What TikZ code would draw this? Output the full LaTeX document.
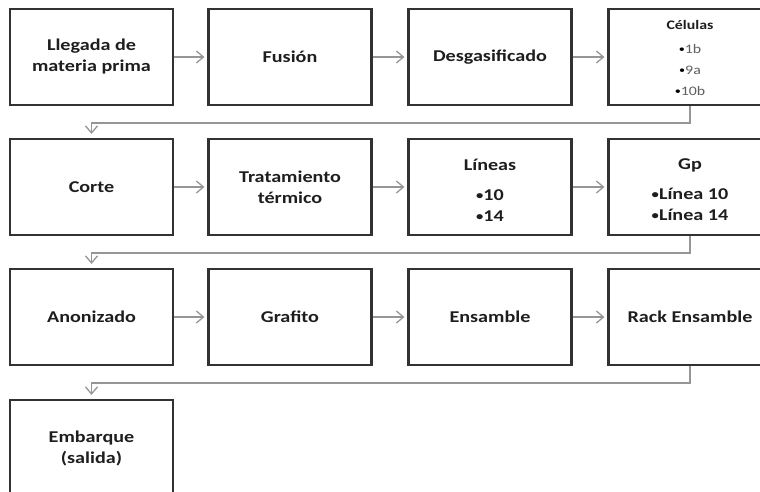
\documentclass[tikz,border=0pt]{standalone}
\usepackage{fontspec}
\setmainfont[FakeStretch=1.22]{Carlito}
\usetikzlibrary{arrows.meta}
\definecolor{boxline}{RGB}{50,50,50}
\definecolor{connline}{RGB}{150,150,150}
\definecolor{txt}{RGB}{30,30,30}
\definecolor{subtxt}{RGB}{95,95,95}
\newcommand{\smbul}{\raisebox{1.2pt}{\fontsize{12}{12}\selectfont\textbullet}}
\newcommand{\tinybul}{\raisebox{0.8pt}{\fontsize{10}{10}\selectfont\textbullet}}
\tikzset{
  pbox/.style={draw=boxline, line width=2.2pt, minimum width=163pt, minimum height=96pt,
    inner sep=0pt, align=center, text=txt,
    font=\fontsize{16.5}{21}\selectfont\bfseries},
  btext/.style={inner sep=0pt, align=center, text=txt,
    font=\fontsize{16.5}{21}\selectfont\bfseries},
  conn/.style={draw=connline, line width=1.4pt,
    -{Straight Barb[length=7pt,width=12pt,line width=1.3pt]}, shorten >=3pt},
  elbow/.style={draw=connline, line width=1.4pt,
    -{Straight Barb[length=7pt,width=12pt,line width=1.3pt]}, shorten >=4pt}
}
\begin{document}
\begin{tikzpicture}[x=1pt,y=-1pt]
\clip (0,0) rectangle (760,491);
\fill[white] (0,0) rectangle (760,491);
% row 1
\node[pbox] (lleg) at (91.5,57) {Llegada de\\materia prima};
\node[pbox] (fus)  at (290,57) {Fusión};
\node[pbox] (des)  at (490,57) {Desgasificado};
\node[pbox] (cel)  at (690,57) {};
\node[btext] (celt) at (690,58) {{\fontsize{13}{16}\selectfont Células}\\[3pt]
  {\fontsize{13}{21}\selectfont\mdseries\textcolor{black}{\tinybul}\textcolor{subtxt}{1b}}\\
  {\fontsize{13}{21}\selectfont\mdseries\textcolor{black}{\tinybul}\textcolor{subtxt}{9a}}\\
  {\fontsize{13}{20}\selectfont\mdseries\textcolor{black}{\tinybul}\textcolor{subtxt}{10b}}};
% row 2
\node[pbox] (cort) at (91.5,187) {Corte};
\node[pbox] (trat) at (290,187) {Tratamiento\\térmico};
\node[pbox] (lin)  at (490,187) {};
\node[btext] (lint) at (490,190) {Líneas\\[9pt]{\fontsize{16.5}{26}\selectfont\smbul10}\\{\fontsize{16.5}{26}\selectfont\smbul14}};
\node[pbox] (gp)   at (690,187) {};
\node[btext] (gpt) at (690,190) {Gp\\[9pt]{\fontsize{16.5}{26}\selectfont\smbul Línea 10}\\{\fontsize{16.5}{26}\selectfont\smbul Línea 14}};
% row 3
\node[pbox] (anon) at (91.5,317) {Anonizado};
\node[pbox] (graf) at (290,317) {Grafito};
\node[pbox] (ens)  at (490,317) {Ensamble};
\node[pbox] (rack) at (690,317) {Rack Ensamble};
% row 4
\node[pbox] (emb)  at (91.5,448) {Embarque\\(salida)};
% connectors
\draw[conn] (lleg.east) -- (fus.west);
\draw[conn] (fus.east) -- (des.west);
\draw[conn] (des.east) -- (cel.west);
\draw[elbow] (cel.south) -- ++(0,17) -| (cort.north);
\draw[conn] (cort.east) -- (trat.west);
\draw[conn] (trat.east) -- (lin.west);
\draw[conn] (lin.east) -- (gp.west);
\draw[elbow] (gp.south) -- ++(0,17) -| (anon.north);
\draw[conn] (anon.east) -- (graf.west);
\draw[conn] (graf.east) -- (ens.west);
\draw[conn] (ens.east) -- (rack.west);
\draw[elbow] (rack.south) -- ++(0,17) -| (emb.north);
\end{tikzpicture}
\end{document}
